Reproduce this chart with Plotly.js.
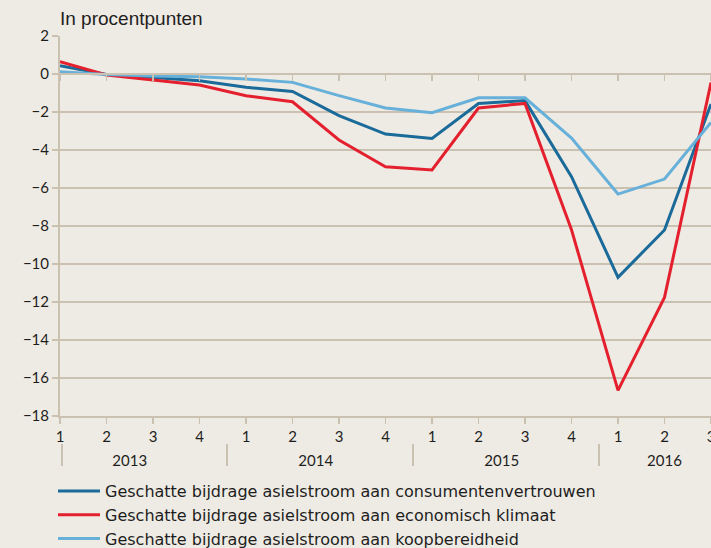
<!DOCTYPE html>
<html>
<head>
<meta charset="utf-8">
<script src="https://cdn.plot.ly/plotly-3.0.1.min.js"></script>
<style>
  html, body { margin: 0; padding: 0; background: #eeebe4; }
  #chart { width: 711px; height: 548px; }
</style>
</head>
<body>
<div id="chart"></div>
<script>
// ---- data ----
const quarterLabels = ['1','2','3','4','1','2','3','4','1','2','3','4','1','2','3'];
const years = ['2013','2014','2015','2016'];
const quartersPerYear = [4, 4, 4, 3];
const seriesNames = [
  'Geschatte bijdrage asielstroom aan consumentenvertrouwen',
  'Geschatte bijdrage asielstroom aan economisch klimaat',
  'Geschatte bijdrage asielstroom aan koopbereidheid'
];
const consumentenvertrouwen = [0.44, -0.03, -0.18, -0.35, -0.70, -0.92, -2.19, -3.16, -3.39, -1.55, -1.40, -5.40, -10.70, -8.21, -1.58];
const economischKlimaat     = [0.65, -0.05, -0.32, -0.58, -1.14, -1.46, -3.47, -4.88, -5.05, -1.79, -1.55, -8.20, -16.65, -11.76, -0.45];
const koopbereidheid        = [0.12, -0.02, -0.10, -0.14, -0.26, -0.44, -1.14, -1.79, -2.04, -1.25, -1.25, -3.37, -6.32, -5.53, -2.55];
const yTicks = [2, 0, -2, -4, -6, -8, -10, -12, -14, -16, -18];

// ---- style ----
const BG = '#eeebe4';
const GRID = '#cbc1b0';
const TXT = '#1e1e1e';
const colors = ['#1a6a9a', '#e5202e', '#66b0da'];
const tickFont = { family: 'Lato, "Open Sans", sans-serif', size: 15, color: TXT };

const W = 711, H = 548;
const mT = 36, mB = 78, mL = 60, mR = 0;
const plotH = H - mT - mB;
const plotW = W - mL - mR;
const pxToPaper = py => (H - mB - py) / plotH;
const yDomLow = pxToPaper(416);

const idx = quarterLabels.map((_, i) => i);

// year groups
let starts = [], s = 0;
quartersPerYear.forEach(n => { starts.push(s); s += n; });
const yearCenters = starts.map((st, k) => {
  const arr = idx.slice(st, st + quartersPerYear[k]);
  return arr.reduce((a, b) => a + b, 0) / arr.length;
});
const dividers = starts.map(st => st === 0 ? 0.04 : st - 0.41);

const yRange = [-18, 2];
const zeroPaper = yDomLow + (0 - yRange[0]) / (yRange[1] - yRange[0]) * (1 - yDomLow);

const series = [consumentenvertrouwen, economischKlimaat, koopbereidheid];
const traces = series.map((vals, k) => ({
  x: idx, y: vals, type: 'scatter', mode: 'lines',
  name: seriesNames[k],
  line: { color: colors[k], width: 3 },
  hoverinfo: 'skip'
}));
// invisible carriers for helper axes
['x2', 'x3', 'x4'].forEach(ax => traces.push({
  x: idx, y: koopbereidheid, xaxis: ax, yaxis: 'y', type: 'scatter', mode: 'lines',
  line: { width: 0 }, opacity: 0, showlegend: false, hoverinfo: 'skip'
}));

const baseX = { range: [0, quarterLabels.length - 1], showgrid: false, zeroline: false, fixedrange: true, ticklabeloverflow: 'allow' };

const layout = {
  width: W, height: H,
  margin: { l: mL, r: mR, t: mT, b: mB, pad: 0, autoexpand: false },
  paper_bgcolor: BG, plot_bgcolor: BG,
  font: { family: '"Liberation Sans", Arial, sans-serif', color: TXT },
  title: {
    text: 'In procentpunten',
    x: 0, xref: 'paper', xanchor: 'left',
    y: 1 - 18 / H, yref: 'container', yanchor: 'middle',
    font: { family: '"Liberation Sans", Arial, sans-serif', size: 19, color: TXT }
  },
  showlegend: true,
  legend: {
    orientation: 'v', x: -7 / plotW, xanchor: 'left', y: pxToPaper(474), yanchor: 'top',
    bgcolor: 'rgba(0,0,0,0)', font: { family: '"DejaVu Sans", sans-serif', size: 16, color: TXT },
    tracegroupgap: 0, itemwidth: 42
  },
  xaxis: Object.assign({}, baseX, {
    anchor: 'y', tickvals: idx, ticktext: quarterLabels,
    ticks: 'outside', ticklen: 6, tickwidth: 1.5, tickcolor: GRID,
    showline: true, linecolor: GRID, linewidth: 2, tickfont: tickFont
  }),
  xaxis2: Object.assign({}, baseX, {
    overlaying: 'x', anchor: 'free', position: zeroPaper, side: 'bottom',
    tickvals: idx, ticks: 'outside', ticklen: 6, tickwidth: 1.5, tickcolor: GRID,
    showticklabels: false, showline: true, linecolor: GRID, linewidth: 2
  }),
  xaxis3: Object.assign({}, baseX, {
    overlaying: 'x', anchor: 'free', position: pxToPaper(443), side: 'bottom',
    tickvals: dividers, ticks: 'outside', ticklen: 22, tickwidth: 1.5, tickcolor: GRID,
    showticklabels: false, showline: false
  }),
  xaxis4: Object.assign({}, baseX, {
    overlaying: 'x', anchor: 'free', position: pxToPaper(450), side: 'bottom',
    tickvals: yearCenters, ticktext: years, ticks: '', showline: false, tickfont: tickFont
  }),
  yaxis: {
    domain: [yDomLow, 1], range: yRange, tickvals: yTicks,
    showgrid: true, gridcolor: GRID, gridwidth: 2, zeroline: false,
    showline: true, linecolor: GRID, linewidth: 2,
    ticks: 'outside', ticklen: 6, tickwidth: 1.5, tickcolor: GRID,
    tickfont: tickFont, fixedrange: true
  }
};

Plotly.newPlot('chart', traces, layout, { displayModeBar: false, staticPlot: true });
</script>
</body>
</html>
